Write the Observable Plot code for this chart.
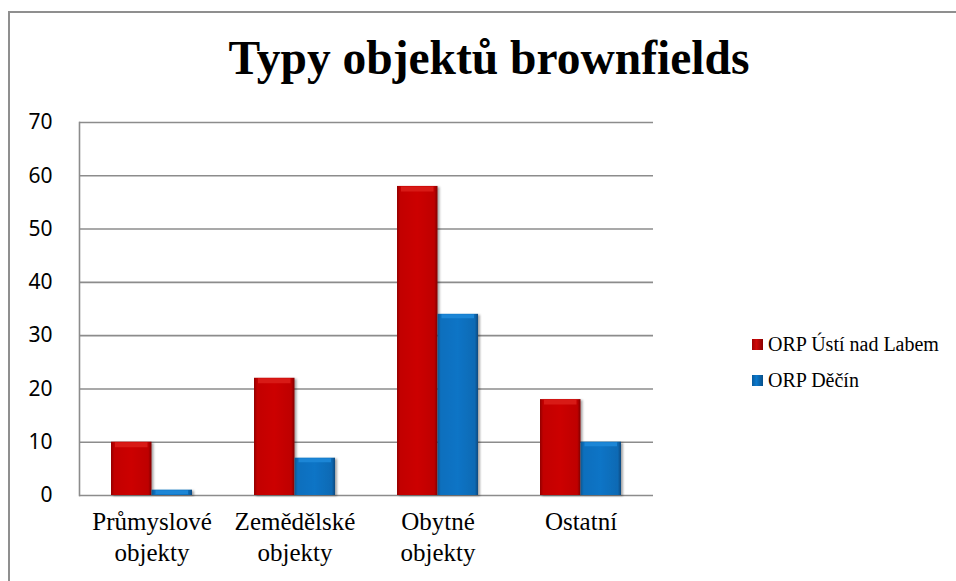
<!DOCTYPE html>
<html>
<head>
<meta charset="utf-8">
<script src="https://cdn.jsdelivr.net/npm/d3@7"></script>
<script src="https://cdn.jsdelivr.net/npm/@observablehq/plot@0.6"></script>
<style>
  html, body { margin: 0; padding: 0; background: #fff; }
  #wrap { position: relative; width: 956px; height: 581px; overflow: hidden; background: #fff; }
  #border { position: absolute; left: 8px; top: 11px; width: 1000px; height: 700px; border: 2px solid #8f8f8f; box-sizing: border-box; }
  #title { position: absolute; left: 0; width: 978px; top: 31px; text-align: center; font-family: "Liberation Serif", "Times New Roman", serif; font-weight: bold; font-size: 47.5px; color: #000; }
  #chart { position: absolute; left: 0; top: 0; }
  .legend { position: absolute; left: 752px; font-family: "Liberation Serif", "Times New Roman", serif; font-size: 20px; color: #000; white-space: nowrap; }
  .legend .sw { display: inline-block; width: 11px; height: 11px; margin-right: 5px; vertical-align: 1px; }
</style>
</head>
<body>
<svg width="0" height="0" style="position:absolute">
  <defs>
    <linearGradient id="gRed" x1="0" y1="0" x2="1" y2="0">
      <stop offset="0" stop-color="#920000"/>
      <stop offset="0.08" stop-color="#c20404"/>
      <stop offset="0.5" stop-color="#cc0606"/>
      <stop offset="0.92" stop-color="#be0303"/>
      <stop offset="1" stop-color="#800000"/>
    </linearGradient>
    <linearGradient id="gBlue" x1="0" y1="0" x2="1" y2="0">
      <stop offset="0" stop-color="#09578f"/>
      <stop offset="0.08" stop-color="#0b6fbd"/>
      <stop offset="0.5" stop-color="#0b74c6"/>
      <stop offset="0.92" stop-color="#0a6ab4"/>
      <stop offset="1" stop-color="#074a80"/>
    </linearGradient>
    <filter id="shadow" x="-20%" y="-20%" width="140%" height="140%">
      <feDropShadow dx="2" dy="1" stdDeviation="1.2" flood-color="#000" flood-opacity="0.35"/>
    </filter>
  </defs>
</svg>
<div id="wrap">
  <div id="border"></div>
  <div id="chart"></div>
  <div id="title">Typy objektů brownfields</div>
  <div class="legend" style="top:333px"><span class="sw" style="background:linear-gradient(90deg,#9e0000,#d00808 40%,#8a0000)"></span>ORP Ústí nad Labem</div>
  <div class="legend" style="top:369px"><span class="sw" style="background:linear-gradient(90deg,#0a5c9e,#0b78cc 40%,#08508a)"></span>ORP Děčín</div>
</div>
<script>
const categories = ["Průmyslové objekty", "Zemědělské objekty", "Obytné objekty", "Ostatní"];
const seriesNames = ["ORP Ústí nad Labem", "ORP Děčín"];
const valuesUsti = [10, 22, 58, 18];
const valuesDecin = [1, 7, 34, 10];
const yTicks = [0, 10, 20, 30, 40, 50, 60, 70];

const usti = categories.map((c, i) => ({category: c, series: seriesNames[0], value: valuesUsti[i]}));
const decin = categories.map((c, i) => ({category: c, series: seriesNames[1], value: valuesDecin[i]}));

const half = 40.5;
const serif = '"Liberation Serif", "Times New Roman", serif';
const sans = '"Noto Sans", "Open Sans", sans-serif';
const xFont = 25, yFont = 21;

const plot = Plot.plot({
  width: 956,
  height: 581,
  marginLeft: 79,
  marginRight: 303,
  marginTop: 122,
  marginBottom: 86,
  style: {background: "transparent", overflow: "visible", fontFamily: serif, fontSize: xFont + "px", color: "#000"},
  x: {domain: categories, paddingInner: 0.435, paddingOuter: 0.2178, label: null},
  y: {domain: [0, 70], ticks: yTicks, label: null},
  marks: [
    Plot.gridY(yTicks, {stroke: "#8c8c8c", strokeOpacity: 1, strokeWidth: 1.6}),
    Plot.frame({anchor: "left", stroke: "#8c8c8c", strokeWidth: 1.6}),
    Plot.axisY(yTicks, {tickSize: 0, tickPadding: 27, fill: "#000", fontSize: yFont, fontFamily: sans, label: null}),
    Plot.axisX({tickSize: 0, tickPadding: 13, lineHeight: 1.22, fill: "#000", fontSize: xFont, fontFamily: serif, label: null,
      tickFormat: d => d.replace(" ", "\n")}),
    Plot.barY(usti, {x: "category", y: "value", fill: "url(#gRed)", insetRight: half}),
    Plot.barY(decin, {x: "category", y: "value", fill: "url(#gBlue)", insetLeft: half}),
    Plot.tickY(usti, {x: "category", y: "value", stroke: "#d81a16", strokeWidth: 5, dy: 2.5, insetRight: half + 4, insetLeft: 4}),
    Plot.tickY(decin, {x: "category", y: "value", stroke: "#1c86d6", strokeWidth: 4, dy: 2, insetLeft: half + 4, insetRight: 4})
  ]
});
d3.select(plot).selectAll("text").each(function() {
  const t = this.textContent.trim();
  const isNum = /^\d+$/.test(t);
  d3.select(this)
    .style("font-family", isNum ? sans : serif)
    .style("font-size", (isNum ? yFont : xFont) + "px")
    .style("fill", "#000");
});
d3.select(plot).selectAll('rect').filter(function() {
  const f = this.getAttribute("fill") || (this.parentNode && this.parentNode.getAttribute("fill")) || "";
  return f.indexOf("url(") === 0;
}).attr("filter", "url(#shadow)");
document.getElementById("chart").appendChild(plot);
</script>
</body>
</html>
